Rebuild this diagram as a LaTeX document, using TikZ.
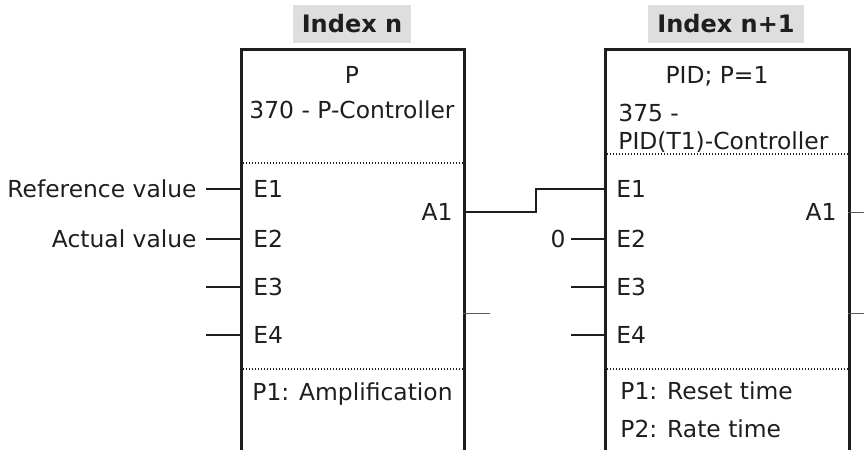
\documentclass[tikz,border=0pt]{standalone}
\usepackage{fontspec}
\setmainfont{DejaVu Sans}
\usetikzlibrary{calc}
\definecolor{ink}{HTML}{1E1E1E}
\definecolor{tagfill}{HTML}{DEDEDE}
\tikzset{
  fblk/.style = {draw=ink, line width=1.3pt, anchor=north west, inner sep=0pt,
                 minimum width=#1, minimum height=210pt},
  tag/.style  = {fill=tagfill, text=ink, font=\fontsize{12}{14}\selectfont\bfseries,
                 inner xsep=4.5pt, inner ysep=0pt, minimum height=19pt},
  lbl/.style  = {text=ink, inner sep=0pt},
  sig/.style  = {lbl, anchor=east, inner xsep=4.5pt},
  pin/.style  = {draw=ink, line width=1.1pt},
  wire/.style = {draw=ink, line width=1.1pt},
  stub/.style = {draw=black!65, line width=0.5pt},
  sep/.style  = {draw=ink, line width=0.6pt, dash pattern=on 0.5pt off 1pt},
}

\begin{document}
\begin{tikzpicture}[x=0.5pt, y=-0.5pt, font=\fontsize{11.7}{14}\selectfont]
  \useasboundingbox (0,0) rectangle (864,450);
  \clip (0,0) rectangle (864,450);

  % block index n
  \node[fblk=111.5pt] (pctl) at (240,48) {};
  \node[tag] (tagn) at (352,24) {Index n};
  \node[lbl] (ptype) at (352,75) {P};
  \node[lbl] (pname) at (352,110) {370 - P-Controller};
  \draw[sep] (240,163) -- (463,163);
  \draw[sep] (240,369) -- (463,369);
  \node[lbl, anchor=west] (ppar1) at (252,394) {P1: Amplification};

  % block index n+1
  \node[fblk=122pt] (qctl) at (604,48) {};
  \node[tag] (tagm) at (726,24) {Index n+1};
  \node[lbl] (qtype) at (717,76) {PID; P=1};
  \node[lbl, anchor=west] (qname) at (618,113) {375 -};
  \node[lbl, anchor=west] (qname2) at (618,142) {PID(T1)-Controller};
  \draw[sep] (604,154) -- (848,154);
  \draw[sep] (604,369) -- (848,369);
  \node[lbl, anchor=west] (qpar1) at (620,391) {P1: Reset time};
  \node[lbl, anchor=west] (qpar2) at (620,429) {P2: Rate time};

  % inputs
  \foreach \i/\y in {1/189,2/239,3/287,4/335} {
    \node[lbl, anchor=west] (pE\i) at (253,\y) {E\i};
    \coordinate (pin\i) at (240,\y);
    \node[lbl, anchor=west] (qE\i) at (616,\y) {E\i};
    \coordinate (qin\i) at (604,\y);
  }
  \node[sig] (refval) at (206,189) {Reference value};
  \node[sig] (actval) at (206,239) {Actual value};
  \node[sig, inner xsep=2.5pt] (zero) at (571,239) {0};
  \draw[pin] (refval) -- (pin1);
  \draw[pin] (actval) -- (pin2);
  \draw[pin] (zero) -- (qin2);
  \draw[pin] (pin3) -- ++(-34,0);
  \draw[pin] (pin4) -- ++(-34,0);
  \draw[pin] (qin3) -- ++(-33,0);
  \draw[pin] (qin4) -- ++(-33,0);

  % outputs
  \node[lbl, anchor=east] (pA1) at (453,212) {A1};
  \coordinate (pout) at (463,212);
  \node[lbl, anchor=east] (qA1) at (837,212) {A1};
  \coordinate (qout) at (848,212);
  \draw[wire] (pout) -| ($(pout)!.52!(qin1)$) |- (qin1);
  \draw[stub] (463,313) -- ++(27,0);
  \draw[stub] (qout) -- ++(16,0);
  \draw[stub] (848,313) -- ++(16,0);
\end{tikzpicture}
\end{document}
